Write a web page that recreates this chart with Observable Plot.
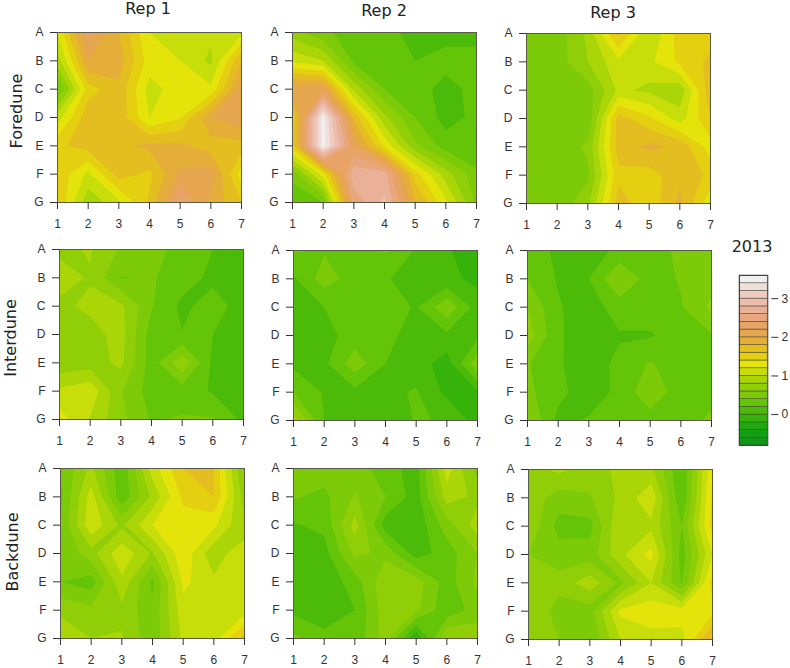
<!DOCTYPE html>
<html>
<head>
<meta charset="utf-8">
<script src="https://cdn.jsdelivr.net/npm/d3@7"></script>
<script src="https://cdn.jsdelivr.net/npm/@observablehq/plot@0.6"></script>
<style>
html,body{margin:0;padding:0;background:#fff}
#c{position:relative;width:790px;height:668px;overflow:hidden}
#c svg{position:absolute;background:transparent;overflow:visible}
.t{position:absolute;font-family:"DejaVu Sans";color:#222;white-space:nowrap;transform:translate(-50%,-50%)}
</style>
</head>
<body>
<div id="c"></div>
<script>
const rowLetters = ["A","B","C","D","E","F","G"];
const colNumbers = [1,2,3,4,5,6,7];
const repTitles = ["Rep 1","Rep 2","Rep 3"];
const duneTitles = ["Foredune","Interdune","Backdune"];
const legendTitle = "2013";
const legendTicks = [0,1,2,3];
const levels = [-0.8,-0.6,-0.4,-0.2,0,0.2,0.4,0.6,0.8,1,1.2,1.4,1.6,1.8,2,2.2,2.4,2.6,2.8,3,3.2,3.4,3.6];
const colors = ["#12961A","#129F14","#1FA810","#36B30A","#4CBA08","#64C408","#7DCB08","#90CF08","#AAD608","#C8DE0A","#E4E40A","#E4D010","#E4BE20","#E4AE38","#E6A650","#E8A466","#E8A87E","#EAB098","#ECBCAC","#EECCC2","#F0DEDA","#F0F0F0"];

const foreduneRep1 = [
 [1.2,2.3,1.8,1.2,1.05,1.05,1.15],
 [0.9,2.0,1.9,1.3,1.2,0.95,1.8],
 [0.35,1.5,1.75,1.12,1.3,1.25,2.1],
 [1.1,1.75,1.75,1.2,1.38,2.0,2.15],
 [1.55,1.7,1.75,1.85,1.85,1.7,1.7],
 [1.55,1.15,1.7,1.55,2.05,2.1,1.3],
 [1.6,0.85,1.15,1.65,2.45,1.95,1.6]];
const foreduneRep2 = [
 [0.7,0.45,0.3,0.25,0.15,0.12,0.12],
 [1.15,1.0,0.35,0.3,0.2,0.28,0.28],
 [2.15,2.15,0.95,0.4,0.3,0.12,0.27],
 [1.5,3.5,1.75,0.85,0.4,0.12,0.25],
 [1.55,3.5,2.2,1.35,0.65,0.3,0.2],
 [0.45,1.3,2.75,2.7,1.5,0.9,0.45],
 [0.3,0.4,2.45,2.85,1.85,1.25,0.55]];
const foreduneRep3 = [
 [0.45,0.48,0.85,1.65,1.0,1.5,1.5],
 [0.45,0.5,0.8,1.15,1.15,1.45,1.65],
 [0.45,0.45,0.5,1.05,0.95,0.85,1.75],
 [0.45,0.45,0.42,1.7,1.45,1.1,1.6],
 [0.45,0.42,0.65,1.7,1.85,1.75,1.3],
 [0.45,0.45,0.55,1.55,1.5,1.75,1.55],
 [0.6,0.45,0.75,1.7,1.45,1.85,1.25]];
const interduneRep1 = [
 [0.75,0.82,0.57,0.45,0.35,0.2,0.1],
 [0.9,0.78,0.39,0.42,0.3,0.15,0.1],
 [0.75,0.85,0.85,0.42,0.15,0.3,0.1],
 [0.7,0.72,0.88,0.3,0.21,0.2,0.1],
 [0.65,0.7,0.85,0.3,0.75,0.15,0.2],
 [1.05,1.15,0.62,0.3,0.3,0.18,0.1],
 [1.3,0.98,0.65,0.38,0.42,0.42,0.15]];
const interduneRep2 = [
 [0.42,0.38,0.22,0.42,0.18,0.02,-0.1],
 [0.17,0.5,0.3,0.22,0.1,0.05,-0.05],
 [0.1,0.2,0.3,0.3,0.18,0.55,0.1],
 [0.08,0.12,0.3,0.27,0.1,0.15,0.15],
 [0.15,0.15,0.52,0.2,0.1,-0.1,0.55],
 [0.4,0.18,0.15,0.15,0.22,-0.05,-0.02],
 [0.9,0.2,0.1,0.12,0.21,0.19,-0.1]];
const interduneRep3 = [
 [0.33,0.15,0.1,0.25,0.3,0.45,0.5],
 [0.4,0.18,0.2,0.6,0.3,0.42,0.5],
 [0.6,0.22,0.1,0.3,0.3,0.38,0.65],
 [0.7,0.22,0.12,0.18,0.18,0.3,0.38],
 [0.42,0.22,0.1,0.25,0.42,0.3,0.3],
 [0.45,0.25,0.1,0.25,0.55,0.28,0.32],
 [0.6,0.15,0.22,0.3,0.3,0.3,0.45]];
const backduneRep1 = [
 [0.4,0.85,0.25,1.1,1.6,1.6,0.55],
 [0.35,1.1,0.25,0.85,1.45,1.6,0.7],
 [0.4,1.15,0.75,1.2,1.3,1.25,0.8],
 [0.4,0.72,1.15,0.78,1.35,0.85,1.2],
 [0.4,0.3,0.95,0.35,1.25,1.05,1.02],
 [0.75,0.65,0.75,0.45,1.12,1.05,1.1],
 [0.95,0.8,0.82,0.45,1.05,1.1,1.7]];
const backduneRep2 = [
 [0.5,0.5,0.5,0.3,0.1,1.1,0.5],
 [0.42,0.35,0.62,0.4,0.1,0.9,0.75],
 [0.18,0.25,0.88,0.1,0.05,0.5,0.9],
 [0.05,0.12,0.65,0.55,0.1,0.3,0.6],
 [0.05,0.05,0.3,0.75,0.7,0.3,0.65],
 [0.15,0.05,0.2,0.72,0.65,0.25,0.5],
 [0.45,0.28,0.25,0.7,-0.2,0.82,0.72]];
const backduneRep3 = [
 [0.7,0.85,0.7,0.85,0.85,0.2,1.4],
 [0.72,0.5,0.58,0.85,1.15,0.2,1.45],
 [0.75,0.32,0.33,1.0,0.95,0.4,1.5],
 [0.6,0.5,0.49,0.95,1.27,0.3,1.2],
 [0.8,0.68,0.92,0.55,1.0,0.38,1.5],
 [0.8,0.5,0.5,1.25,1.32,1.3,1.35],
 [0.78,0.6,0.42,1.0,1.12,1.12,1.85]];

const panels = [
 {v:foreduneRep1,l:56.7,t:32.3},{v:foreduneRep2,l:291.7,t:31.7},{v:foreduneRep3,l:525.7,t:33},
 {v:interduneRep1,l:58.7,t:249.3},{v:interduneRep2,l:292.7,t:249.7},{v:interduneRep3,l:527.3,t:249.7},
 {v:backduneRep1,l:59.7,t:467.7},{v:backduneRep2,l:293.3,t:468},{v:backduneRep3,l:528.3,t:468.7}
];
const root = document.getElementById("c");
const PW = 184, PH = 170, ML = 26, MT = 4, MR = 8, MB = 30;
const colorOpt = {type:"threshold",domain:levels.slice(1,-1),range:colors};

for (const p of panels) {
  const svg = Plot.plot({
    width: ML+PW+MR, height: MT+PH+MB,
    marginLeft: ML, marginRight: MR, marginTop: MT, marginBottom: MB,
    style: {fontFamily:"'Liberation Sans'",fontSize:"12px",color:"#333",background:"transparent"},
    x: {domain:[1,7]},
    y: {domain:[7,1]},
    color: colorOpt,
    marks: [
      Plot.contour(p.v.flat(), {width:7,height:7,x1:0.5,x2:7.5,y1:0.5,y2:7.5,fill:Plot.identity,thresholds:levels.slice(0,-1),clip:"frame"}),
      Plot.frame({stroke:"#5a5a48",strokeWidth:1}),
      Plot.axisX(colNumbers,{x:d=>d,tickSize:7,tickPadding:10,label:null,fontSize:12,tickFormat:d=>String(d)}),
      Plot.axisY(colNumbers,{y:d=>d,tickSize:7,tickPadding:7,label:null,fontSize:12,tickFormat:d=>rowLetters[d-1]})
    ]
  });
  svg.style.left = (p.l-ML)+"px";
  svg.style.top = (p.t-MT)+"px";
  root.appendChild(svg);
}

// legend colour bar
const bands = colors.map((c,i)=>({c,y1:levels[i],y2:levels[i+1]}));
const legend = Plot.plot({
  width: 790-739, height: 180,
  marginLeft: 0, marginRight: 22.7, marginTop: 5, marginBottom: 5,
  style: {fontFamily:"'Liberation Sans'",fontSize:"12px",color:"#333",background:"transparent"},
  x: {domain:[0,1],axis:null},
  y: {domain:[-0.8,3.6]},
  marks: [
    Plot.rect(bands,{x1:0,x2:1,y1:"y1",y2:"y2",fill:"c",stroke:"#3a3a2a",strokeWidth:0.7,strokeOpacity:0.7}),
    Plot.frame({stroke:"#444"}),
    Plot.axisY(legendTicks,{anchor:"right",tickSize:7,tickPadding:7,label:null,fontSize:12,textAnchor:"middle",dx:3})
  ]
});
legend.style.left = "739.3px";
legend.style.top = "270px";
root.appendChild(legend);

function label(text,x,y,size,rot){
  const d = document.createElement("div");
  d.className = "t"; d.textContent = text;
  d.style.left = x+"px"; d.style.top = y+"px"; d.style.fontSize = size+"px";
  if (rot) d.style.transform = "translate(-50%,-50%) rotate(-90deg)";
  root.appendChild(d);
}
[[148,8],[384,10],[613,11.5]].forEach((q,i)=>label(repTitles[i],q[0],q[1],16));
[[15.7,111],[10,337.5],[11.7,552]].forEach((q,i)=>label(duneTitles[i],q[0],q[1],16,true));
label(legendTitle,752,245.7,16);
</script>
</body>
</html>
